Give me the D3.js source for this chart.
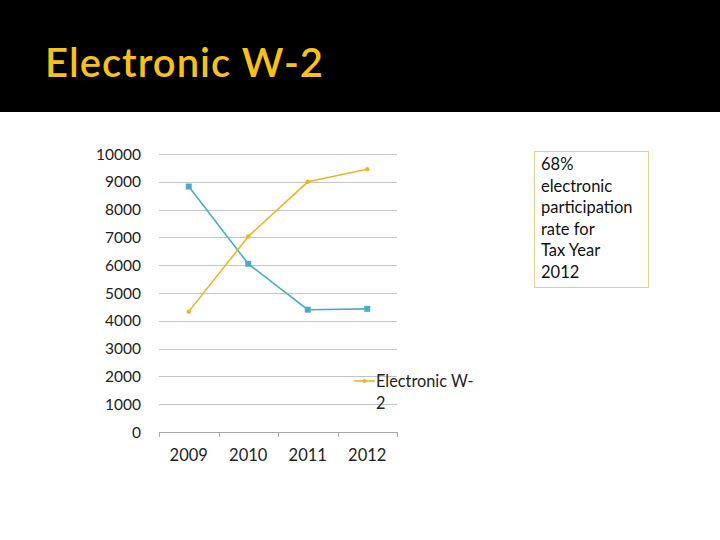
<!DOCTYPE html>
<html><head><meta charset="utf-8">
<script src="https://cdn.jsdelivr.net/npm/d3@7"></script>
<style>html,body{margin:0;padding:0;background:#fff;}svg{display:block;}</style>
</head><body>
<script>
const years = ["2009","2010","2011","2012"];
const blueSeries = [8830, 6050, 4400, 4430];
const orangeSeries = [4330, 7030, 9000, 9450];
const yTicks = [0,1000,2000,3000,4000,5000,6000,7000,8000,9000,10000];
const legendLabel = ["Electronic W-", "2"];
const noteLines = ["68%", "electronic", "participation", "rate for", "Tax Year", "2012"];
const titleText = "Electronic W-2";

const W = 720, H = 540;
const svg = d3.select("body").append("svg").attr("width", W).attr("height", H);
svg.append("rect").attr("width", W).attr("height", H).attr("fill", "#fff");
svg.append("rect").attr("width", W).attr("height", 112).attr("fill", "#000");
svg.append("text").attr("x", 45).attr("y", 77).attr("fill", "#F6C21A")
  .attr("font-family", "Lato, 'Open Sans', sans-serif").attr("font-size", 40)
  .attr("font-weight", 600).attr("textLength", 278).attr("lengthAdjust", "spacing")
  .text(titleText);

const x = d3.scaleBand().domain(years).range([159, 397]);
const y = d3.scaleLinear().domain([0, 10000]).range([432, 154]);

const font = "Lato, 'Open Sans', sans-serif";
// grid
svg.append("g").selectAll("line").data(yTicks).join("line")
  .attr("x1", 159).attr("x2", 397)
  .attr("y1", d => Math.round(y(d)) + 0.5).attr("y2", d => Math.round(y(d)) + 0.5)
  .attr("stroke", d => d === 0 ? "#a8a8a8" : "#c4c4c4").attr("stroke-width", 1);
// y labels
svg.append("g").selectAll("text").data(yTicks).join("text")
  .attr("x", 141).attr("y", d => y(d) + 5.5).attr("text-anchor", "end")
  .attr("font-family", font).attr("font-size", 15.5).attr("fill", "#222")
  .text(d => d);
// x ticks at band boundaries
const bounds = years.map(d => x(d)).concat([x.range()[1]]);
svg.append("g").selectAll("line").data(bounds).join("line")
  .attr("x1", d => Math.round(d) + 0.5).attr("x2", d => Math.round(d) + 0.5)
  .attr("y1", 432).attr("y2", 437).attr("stroke", "#a8a8a8");
svg.append("g").selectAll("text").data(years).join("text")
  .attr("x", d => x(d) + x.bandwidth() / 2).attr("y", 461).attr("text-anchor", "middle")
  .attr("font-family", font).attr("font-size", 16.5).attr("fill", "#222")
  .text(d => d);

const cx = d => x(d) + x.bandwidth() / 2;
const line = d3.line().x((d, i) => cx(years[i])).y(d => y(d));
svg.append("path").datum(blueSeries).attr("d", line).attr("fill", "none")
  .attr("stroke", "#4BACC6").attr("stroke-width", 1.6);
svg.append("g").selectAll("rect").data(blueSeries).join("rect")
  .attr("x", (d, i) => cx(years[i]) - 3).attr("y", d => y(d) - 3)
  .attr("width", 6).attr("height", 6).attr("fill", "#4BACC6");
svg.append("path").datum(orangeSeries).attr("d", line).attr("fill", "none")
  .attr("stroke", "#F0B323").attr("stroke-width", 1.6);
svg.append("g").selectAll("circle").data(orangeSeries).join("circle")
  .attr("cx", (d, i) => cx(years[i])).attr("cy", d => y(d)).attr("r", 2.2)
  .attr("fill", "#F0B323");

// legend
const lg = svg.append("g");
lg.append("line").attr("x1", 354).attr("x2", 375).attr("y1", 381).attr("y2", 381)
  .attr("stroke", "#F0B323").attr("stroke-width", 1.6);
lg.append("circle").attr("cx", 364.5).attr("cy", 381).attr("r", 2).attr("fill", "#F0B323");
lg.selectAll("text").data(legendLabel).join("text")
  .attr("x", 376).attr("y", (d, i) => 387 + i * 22)
  .attr("font-family", font).attr("font-size", 16.3).attr("fill", "#222")
  .text(d => d);

// note box
svg.append("rect").attr("x", 534.5).attr("y", 151.5).attr("width", 114).attr("height", 136)
  .attr("fill", "#fff").attr("stroke", "#E2D08A").attr("stroke-width", 1);
svg.append("g").selectAll("text").data(noteLines).join("text")
  .attr("x", 541).attr("y", (d, i) => 170 + i * 21.6)
  .attr("font-family", font).attr("font-size", 16.5).attr("fill", "#111")
  .text(d => d);
</script>
</body></html>
